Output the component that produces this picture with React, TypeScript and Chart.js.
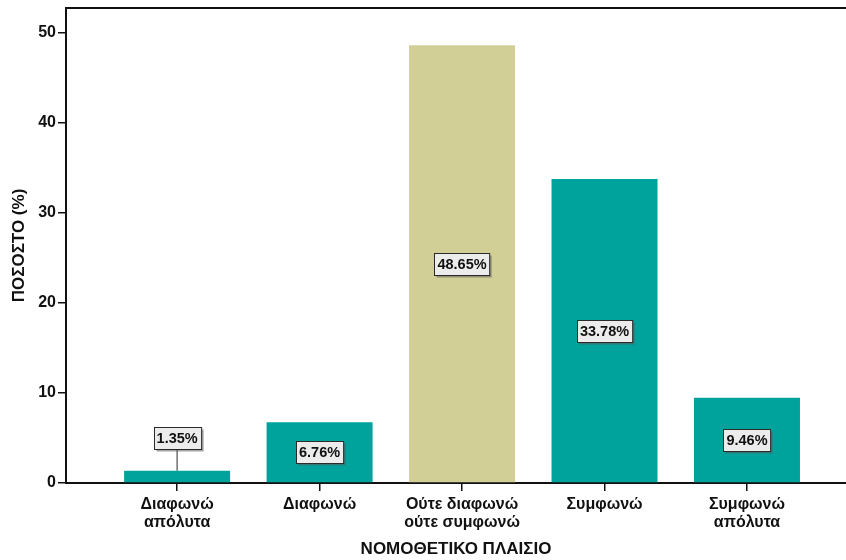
import React, { useEffect, useRef } from "react";
import { Chart, registerables } from "chart.js";

Chart.register(...registerables);

const categories: string[][] = [
  ["Διαφωνώ", "απόλυτα"],
  ["Διαφωνώ"],
  ["Ούτε διαφωνώ", "ούτε συμφωνώ"],
  ["Συμφωνώ"],
  ["Συμφωνώ", "απόλυτα"],
];
const percentages: number[] = [1.35, 6.76, 48.65, 33.78, 9.46];
const barColors: string[] = ["#00A29C", "#00A29C", "#D2CF96", "#00A29C", "#00A29C"];
const yTicks: number[] = [0, 10, 20, 30, 40, 50];

const FONT = "'Liberation Sans', Arial, sans-serif";

// Boxed percentage labels; short bars get the box above with a leader line.
const valueLabels = {
  id: "valueLabels",
  afterDatasetsDraw(chart: any) {
    const ctx = chart.ctx as CanvasRenderingContext2D;
    const meta = chart.getDatasetMeta(0);
    ctx.save();
    ctx.font = `bold 14.5px ${FONT}`;
    ctx.textAlign = "center";
    ctx.textBaseline = "middle";
    meta.data.forEach((bar: any, i: number) => {
      const text = percentages[i].toFixed(2) + "%";
      const w = ctx.measureText(text).width + 6;
      const h = 22;
      const barH = bar.base - bar.y;
      let cy = (bar.y + bar.base) / 2;
      const above = barH < h + 10;
      if (above) {
        cy = bar.y - 33;
        ctx.strokeStyle = "#707070";
        ctx.lineWidth = 1.5;
        ctx.beginPath();
        ctx.moveTo(bar.x, bar.y);
        ctx.lineTo(bar.x, cy + h / 2);
        ctx.stroke();
      }
      const x0 = Math.round(bar.x - w / 2) + 0.5;
      const y0 = Math.round(cy - h / 2) + 0.5;
      ctx.fillStyle = "rgba(90,90,90,0.55)";
      ctx.fillRect(x0 + 2, y0 + 2, w, h);
      ctx.fillStyle = "#ECECEC";
      ctx.fillRect(x0, y0, w, h);
      ctx.strokeStyle = "#2a2a2a";
      ctx.lineWidth = 1;
      ctx.strokeRect(x0, y0, w, h);
      ctx.fillStyle = "#111";
      ctx.fillText(text, bar.x, cy + 1);
    });
    ctx.restore();
  },
};

// Top frame line of the plot area.
const frameTop = {
  id: "frameTop",
  afterDraw(chart: any) {
    const { ctx, chartArea } = chart;
    ctx.save();
    ctx.strokeStyle = "#111";
    ctx.lineWidth = 2;
    ctx.beginPath();
    ctx.moveTo(chartArea.left - 1, chartArea.top);
    ctx.lineTo(chart.width, chartArea.top);
    ctx.stroke();
    ctx.restore();
  },
};

export default function App() {
  const canvasRef = useRef<HTMLCanvasElement | null>(null);

  useEffect(() => {
    if (!canvasRef.current) return;
    const chart = new Chart(canvasRef.current, {
      type: "bar",
      data: {
        datasets: [
          {
            data: percentages.map((v, i) => ({ x: i, y: v })),
            backgroundColor: barColors,
            borderWidth: 0,
            barPercentage: 0.744,
            categoryPercentage: 1,
          },
        ],
      },
      options: {
        animation: false,
        responsive: false,
        maintainAspectRatio: false,
        layout: { padding: { top: 8, right: 0, left: 0, bottom: 0 }, autoPadding: false },
        plugins: { legend: { display: false }, tooltip: { enabled: false } },
        scales: {
          x: {
            type: "linear",
            offset: false,
            min: -0.78,
            max: 4.695,
            afterBuildTicks(scale: any) {
              scale.ticks = categories.map((_, i) => ({ value: i }));
            },
            afterFit(scale: any) {
              scale.height = 77;
              scale.paddingLeft = 0;
              scale.paddingRight = 0;
            },
            border: { display: true, color: "#111", width: 2 },
            grid: { offset: false, drawOnChartArea: false, drawTicks: true, tickLength: 8, color: "#111", lineWidth: 1.5 },
            ticks: {
              autoSkip: false,
              maxRotation: 0,
              padding: 4,
              color: "#111",
              font: { family: FONT, size: 16, weight: "bold", lineHeight: 1.15 },
              callback: (v: any) => categories[Number(v)] ?? "",
            },
            title: {
              display: true,
              text: "ΝΟΜΟΘΕΤΙΚΟ ΠΛΑΙΣΙΟ",
              color: "#111",
              font: { family: FONT, size: 17, weight: "bold" },
              padding: { top: 0, bottom: 0 },
            },
          },
          y: {
            min: 0,
            max: 52.78,
            afterBuildTicks(scale: any) {
              scale.ticks = yTicks.map((v) => ({ value: v }));
            },
            afterFit(scale: any) {
              scale.width = 66;
              scale.paddingTop = 0;
              scale.paddingBottom = 0;
            },
            border: { display: true, color: "#111", width: 2 },
            grid: { drawOnChartArea: false, drawTicks: true, tickLength: 8, color: "#111", lineWidth: 1.5 },
            ticks: {
              padding: 2,
              color: "#111",
              font: { family: FONT, size: 16, weight: "bold" },
            },
            title: {
              display: true,
              text: "ΠΟΣΟΣΤΟ (%)",
              color: "#111",
              font: { family: FONT, size: 17, weight: "bold" },
              padding: { top: 9, bottom: 0 },
            },
          },
        },
      },
      plugins: [valueLabels, frameTop],
    });
    return () => chart.destroy();
  }, []);

  return (
    <div style={{ position: "fixed", left: 0, top: 0, width: 846, height: 560, background: "#fff" }}>
      <canvas ref={canvasRef} width={846} height={560} style={{ display: "block" }} />
    </div>
  );
}
